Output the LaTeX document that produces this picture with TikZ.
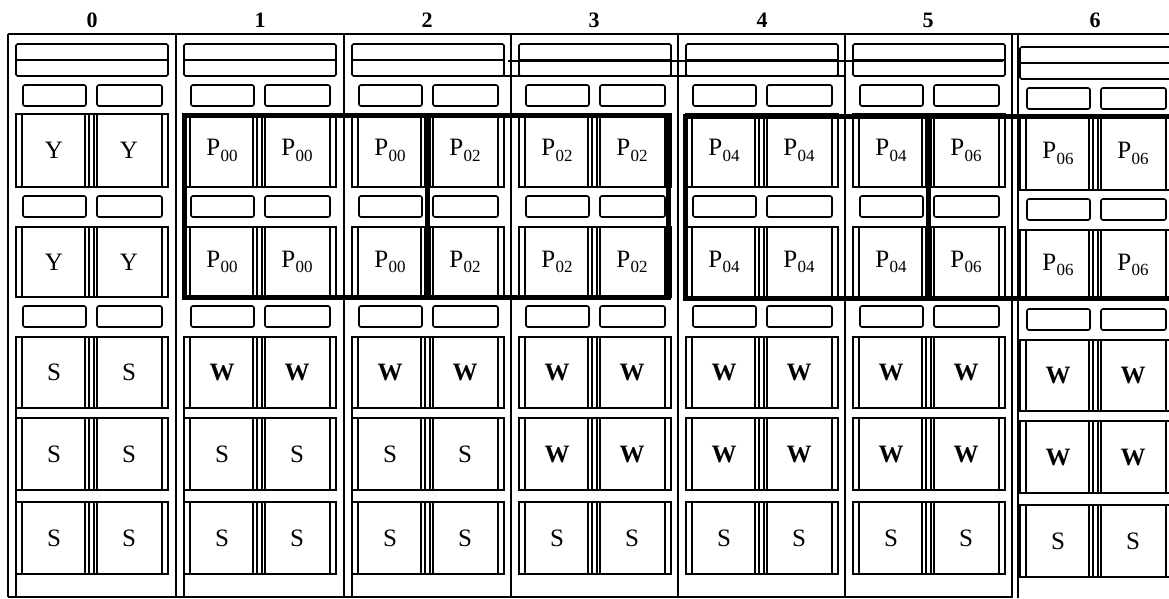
\documentclass[tikz,border=0pt]{standalone}
\usepackage{fontspec}
\setmainfont{Liberation Serif}
\newcommand\psub[1]{P\kern0.5pt\raisebox{-0.5ex}{\fontsize{17}{17}\selectfont #1}}
\begin{document}
\begin{tikzpicture}[x=1pt,y=-1pt,
  thinl/.style={line width=1.6pt},
  thickl/.style={line width=5pt},
  lbl/.style={inner sep=0pt,font=\fontsize{25}{28}\selectfont},
  collbl/.style={inner sep=0pt,font=\fontsize{22}{24}\selectfont\bfseries}]
\useasboundingbox (0,0) rectangle (1169,598);
\clip (0,0) rectangle (1169,598);
% column numbers
\foreach \x/\n in {92/0,260/1,427/2,594/3,762/4,928/5,1095/6}
  \node[collbl] (col\n) at (\x,20) {\n};
% column racks
\foreach \L/\dy/\i/\la/\ra/\c/\d in {
   8/0/0/Y/Y/S/S,
   176/0/1/\psub{00}/\psub{00}/\textbf{W}/S,
   344/0/2/\psub{00}/\psub{02}/\textbf{W}/S,
   511/0/3/\psub{02}/\psub{02}/\textbf{W}/\textbf{W},
   678/0/4/\psub{04}/\psub{04}/\textbf{W}/\textbf{W},
   845/0/5/\psub{04}/\psub{06}/\textbf{W}/\textbf{W},
   1012/3/6/\psub{06}/\psub{06}/\textbf{W}/\textbf{W}}{
  \begin{scope}[shift={(\L,\dy)}]
    \draw[thinl,rounded corners=1.5pt] (8,44) rectangle (160,76);
    \draw[thinl] (8,60) -- (160,60);
    \foreach \y in {85,196,306}{
      \draw[thinl,rounded corners=2pt] (15,\y) rectangle (78,\y+21);
      \draw[thinl,rounded corners=2pt] (89,\y) rectangle (154,\y+21);
    }
    \foreach \ya/\yb/\r/\lt/\rt in {114/187/a/\la/\ra, 227/297/b/\la/\ra,
        337/408/c/\c/\c, 418/490/d/\d/\d, 502/574/e/S/S}{
      \draw[thinl] (8,\ya) rectangle (160,\yb);
      \foreach \xx in {14,77,81,86,89,154}
        \draw[thinl] (\xx,\ya) -- (\xx,\yb);
      \node[lbl] (s\i\r l) at (46,{(\ya+\yb)/2}) {\lt};
      \node[lbl] (s\i\r r) at (121,{(\ya+\yb)/2}) {\rt};
    }
  \end{scope}
}
% rack outline and column separators
\draw[thinl] (8,34) -- (1169,34);
\foreach \x in {8,176,344,511,678,845}
  \draw[thinl] (\x,34) -- (\x,597);
\foreach \x in {16,184,352}
  \draw[thinl] (\x,337) -- (\x,597);
\draw[thinl] (8,597) -- (1012,597);
\draw[line width=2.5pt] (1012,34) -- (1012,598);
\draw[thinl] (1018,34) -- (1018,598);
\draw[thinl] (1018,577) -- (1169,577);
% stray lines across the top boxes
\draw[thinl] (508,61) -- (1003,61);
\draw[thinl] (503,76) -- (845,76);
% bold groupings
\draw[thickl] (184,115) rectangle (668,297);
\draw[thickl] (427,115) -- (427,297);
\draw[thickl] (685,116) rectangle (1180,298);
\draw[thickl] (928,116) -- (928,298);
\end{tikzpicture}
\end{document}
